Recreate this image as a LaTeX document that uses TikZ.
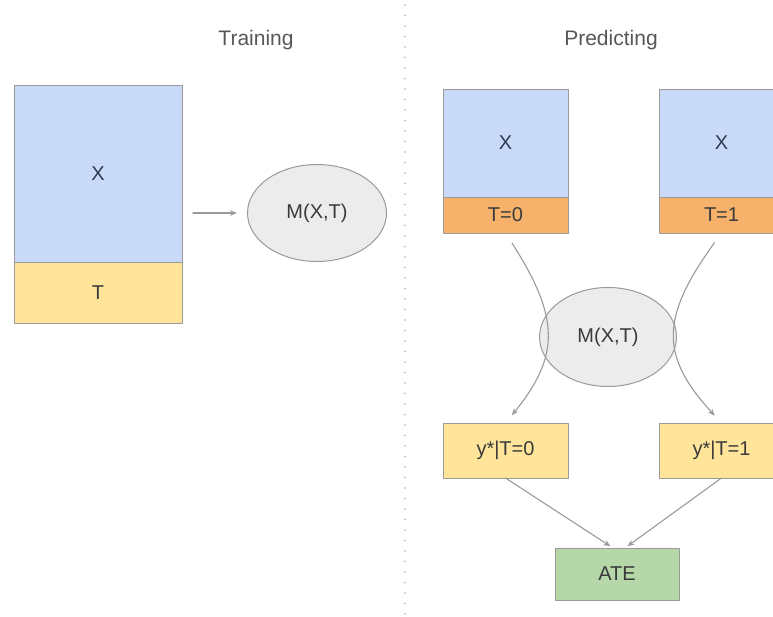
\documentclass[tikz,border=0pt]{standalone}
\usepackage{fontspec}
\setmainfont{Liberation Sans}
\usetikzlibrary{positioning}
\usetikzlibrary{shapes.geometric}
\usetikzlibrary{arrows.meta}
\definecolor{xblue}{HTML}{C9DAF8}
\definecolor{tyellow}{HTML}{FFE599}
\definecolor{torange}{HTML}{F6B26B}
\definecolor{agreen}{HTML}{B6D7A8}
\definecolor{mgray}{HTML}{ECECEC}
\definecolor{edge}{HTML}{9A9A9A}
\definecolor{ink}{HTML}{3A3A3A}
\definecolor{xink}{HTML}{2E3A52}

\begin{document}
\begin{tikzpicture}[x=1pt,y=1pt,line cap=round,line join=round,>={Stealth[length=7pt,width=5.5pt]},
  box/.style={draw=edge,line width=0.8pt,outer sep=0pt,inner sep=0pt,minimum width=125pt,text=ink,font=\fontsize{20}{24}\selectfont},
  xbox/.style={box,fill=xblue,text=xink},
  model/.style={ellipse,draw=edge,line width=1pt,fill=mgray,inner sep=0pt,text=ink,font=\fontsize{20}{24}\selectfont},
  title/.style={text=ink!85,font=\fontsize{21}{25}\selectfont},
  link/.style={draw=edge,line width=1.1pt,->}]
\useasboundingbox (0,0) rectangle (773,617);
\clip (0,0) rectangle (773,617);

% training side
\node[title] (train) at (256,577) {Training};
\node[xbox,minimum width=168pt,minimum height=177pt] (xa) at (98,443.5) {X};
\node[box,fill=tyellow,minimum width=168pt,minimum height=61pt,below=0pt of xa] (ta) {T};
\node[model,minimum width=139pt,minimum height=97pt] (mt) at (317,404) {M(X,T)};
\draw[link,shorten <=11pt,shorten >=10pt] (xa.east |- mt.west) -- (mt.west);

% dotted divider
\coordinate (top) at (405,612);
\coordinate (bot) at (405,0);
\draw[edge!80,line width=1.6pt,dash pattern=on 0pt off 10.5pt] (top) -- (bot);

% predicting side
\node[title] (pred) at (611,577) {Predicting};
\node[xbox,minimum height=108pt] (x0) at (505.5,474) {X};
\node[box,fill=torange,minimum height=36pt,below=0pt of x0] (t0) {T=0};
\node[xbox,minimum height=108pt] (x1) at (721.5,474) {X};
\node[box,fill=torange,minimum height=36pt,below=0pt of x1] (t1) {T=1};

\node[model,minimum width=137pt,minimum height=99pt] (mp) at (608,280) {M(X,T)};

\node[box,fill=tyellow,minimum height=55pt] (y0) at (505.5,166.5) {y*|T=0};
\node[box,fill=tyellow,minimum height=55pt] (y1) at (721.5,166.5) {y*|T=1};
\node[box,fill=agreen,minimum width=124pt,minimum height=52pt] (ate) at (617,43) {ATE};

% both cases run through the model
\draw[link,shorten <=12pt,shorten >=10pt] (t0.south) .. controls (560,299) and (560,261) .. (y0.north);
\draw[link,shorten <=12pt,shorten >=10pt] (t1.south) .. controls (660,299) and (660,261) .. (y1.north);
\draw[link,shorten >=3pt] (y0.south) -- ([xshift=-4pt]ate.north);
\draw[link,shorten >=3pt] (y1.south) -- ([xshift=8pt]ate.north);
\end{tikzpicture}
\end{document}
